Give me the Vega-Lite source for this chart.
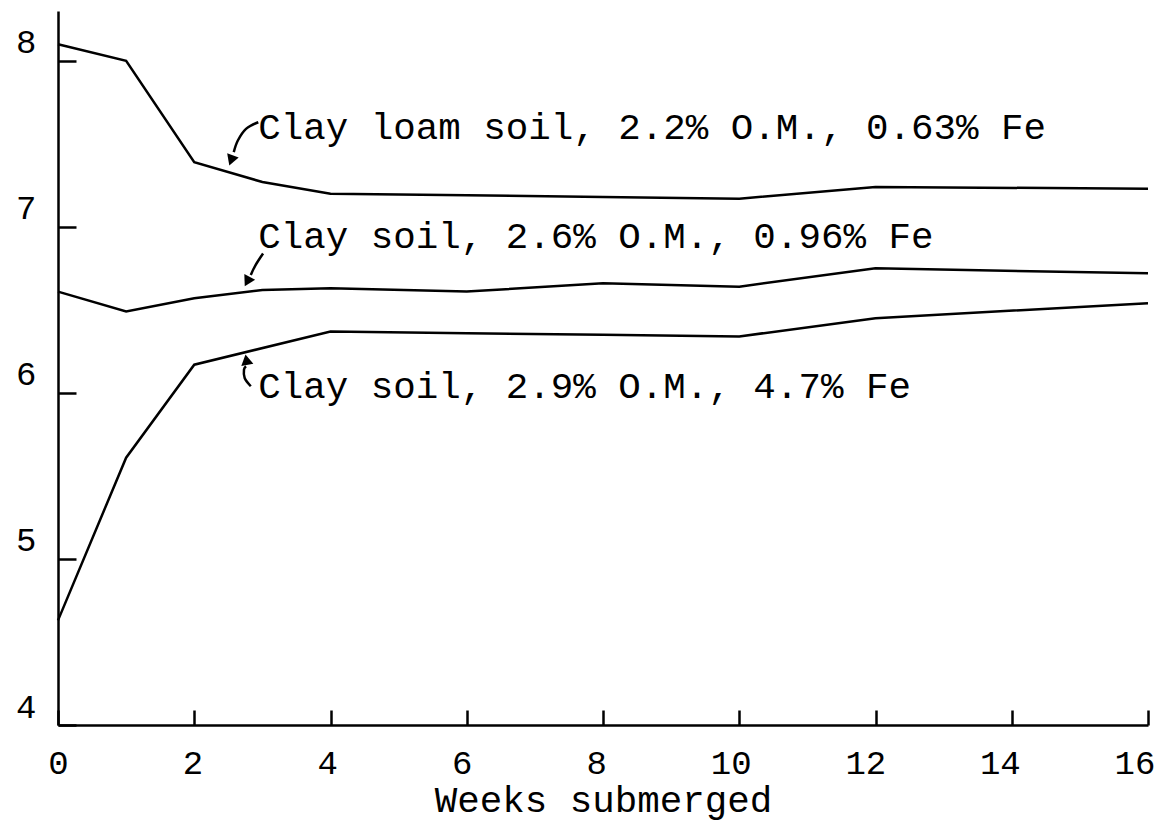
{
  "$schema": "https://vega.github.io/schema/vega-lite/v6.json",
  "width": 1090,
  "height": 714,
  "autosize": "none",
  "padding": {"left": 58, "top": 11, "right": 13, "bottom": 97},
  "background": "white",
  "config": {
    "view": {"stroke": null},
    "font": "Liberation Mono",
    "axis": {
      "grid": false,
      "domainColor": "black",
      "domainWidth": 2.5,
      "tickColor": "black",
      "tickWidth": 2.5,
      "labelColor": "black",
      "labelFont": "Liberation Mono",
      "labelFontSize": 34,
      "labelFlush": false,
      "titleColor": "black",
      "titleFont": "Liberation Mono",
      "titleFontSize": 37.5,
      "titleFontWeight": "normal"
    }
  },
  "datasets": {
    "series": [
      {"soil": "Clay loam soil, 2.2% O.M., 0.63% Fe", "week": 0, "pH": 8.1},
      {"soil": "Clay loam soil, 2.2% O.M., 0.63% Fe", "week": 1, "pH": 8.0},
      {"soil": "Clay loam soil, 2.2% O.M., 0.63% Fe", "week": 2, "pH": 7.39},
      {"soil": "Clay loam soil, 2.2% O.M., 0.63% Fe", "week": 3, "pH": 7.27},
      {"soil": "Clay loam soil, 2.2% O.M., 0.63% Fe", "week": 4, "pH": 7.2},
      {"soil": "Clay loam soil, 2.2% O.M., 0.63% Fe", "week": 6, "pH": 7.19},
      {"soil": "Clay loam soil, 2.2% O.M., 0.63% Fe", "week": 8, "pH": 7.18},
      {"soil": "Clay loam soil, 2.2% O.M., 0.63% Fe", "week": 10, "pH": 7.17},
      {"soil": "Clay loam soil, 2.2% O.M., 0.63% Fe", "week": 12, "pH": 7.24},
      {"soil": "Clay loam soil, 2.2% O.M., 0.63% Fe", "week": 16, "pH": 7.23},
      {"soil": "Clay soil, 2.6% O.M., 0.96% Fe", "week": 0, "pH": 6.61},
      {"soil": "Clay soil, 2.6% O.M., 0.96% Fe", "week": 1, "pH": 6.49},
      {"soil": "Clay soil, 2.6% O.M., 0.96% Fe", "week": 2, "pH": 6.57},
      {"soil": "Clay soil, 2.6% O.M., 0.96% Fe", "week": 3, "pH": 6.62},
      {"soil": "Clay soil, 2.6% O.M., 0.96% Fe", "week": 4, "pH": 6.63},
      {"soil": "Clay soil, 2.6% O.M., 0.96% Fe", "week": 6, "pH": 6.61},
      {"soil": "Clay soil, 2.6% O.M., 0.96% Fe", "week": 8, "pH": 6.66},
      {"soil": "Clay soil, 2.6% O.M., 0.96% Fe", "week": 10, "pH": 6.64},
      {"soil": "Clay soil, 2.6% O.M., 0.96% Fe", "week": 12, "pH": 6.75},
      {"soil": "Clay soil, 2.6% O.M., 0.96% Fe", "week": 16, "pH": 6.72},
      {"soil": "Clay soil, 2.9% O.M., 4.7% Fe", "week": 0, "pH": 4.63},
      {"soil": "Clay soil, 2.9% O.M., 4.7% Fe", "week": 1, "pH": 5.61},
      {"soil": "Clay soil, 2.9% O.M., 4.7% Fe", "week": 2, "pH": 6.17},
      {"soil": "Clay soil, 2.9% O.M., 4.7% Fe", "week": 4, "pH": 6.37},
      {"soil": "Clay soil, 2.9% O.M., 4.7% Fe", "week": 6, "pH": 6.36},
      {"soil": "Clay soil, 2.9% O.M., 4.7% Fe", "week": 8, "pH": 6.35},
      {"soil": "Clay soil, 2.9% O.M., 4.7% Fe", "week": 10, "pH": 6.34},
      {"soil": "Clay soil, 2.9% O.M., 4.7% Fe", "week": 12, "pH": 6.45},
      {"soil": "Clay soil, 2.9% O.M., 4.7% Fe", "week": 16, "pH": 6.54}
    ],
    "labels": [
      {"soil": "Clay loam soil, 2.2% O.M., 0.63% Fe", "week": 2.94, "pH": 7.53},
      {"soil": "Clay soil, 2.6% O.M., 0.96% Fe", "week": 2.94, "pH": 6.87},
      {"soil": "Clay soil, 2.9% O.M., 4.7% Fe", "week": 2.94, "pH": 5.97}
    ],
    "pointers": [
      {"arrow": "a", "ord": 0, "week": 2.94, "pH": 7.63},
      {"arrow": "a", "ord": 1, "week": 2.76, "pH": 7.59},
      {"arrow": "a", "ord": 2, "week": 2.64, "pH": 7.52},
      {"arrow": "a", "ord": 3, "week": 2.58, "pH": 7.45},
      {"arrow": "b", "ord": 0, "week": 3.01, "pH": 6.84},
      {"arrow": "b", "ord": 1, "week": 2.9, "pH": 6.77},
      {"arrow": "b", "ord": 2, "week": 2.83, "pH": 6.71},
      {"arrow": "c", "ord": 0, "week": 2.83, "pH": 6.04},
      {"arrow": "c", "ord": 1, "week": 2.74, "pH": 6.09},
      {"arrow": "c", "ord": 2, "week": 2.73, "pH": 6.14},
      {"arrow": "c", "ord": 3, "week": 2.76, "pH": 6.16}
    ],
    "heads": [
      {"arrow": "a", "week": 2.55, "pH": 7.41},
      {"arrow": "b", "week": 2.79, "pH": 6.68},
      {"arrow": "c", "week": 2.77, "pH": 6.19}
    ]
  },
  "encoding": {
    "x": {
      "field": "week",
      "type": "quantitative",
      "scale": {"domain": [0, 16], "nice": false, "zero": false},
      "axis": {
        "title": "Weeks submerged",
        "values": [0, 2, 4, 6, 8, 10, 12, 14, 16],
        "tickSize": -15,
        "labelPadding": 36,
        "labelOffset": {"expr": "-0.85 * datum.value"},
        "titlePadding": 1
      }
    },
    "y": {
      "field": "pH",
      "type": "quantitative",
      "scale": {"domain": [4, 8.3], "nice": false, "zero": false},
      "axis": {
        "title": null,
        "values": [4, 5, 6, 7, 8],
        "tickSize": -18,
        "labelPadding": 40,
        "labelOffset": -18
      }
    }
  },
  "layer": [
    {
      "data": {"name": "series"},
      "mark": {"type": "line", "color": "black", "strokeWidth": 2.5},
      "encoding": {"detail": {"field": "soil"}}
    },
    {
      "data": {"name": "pointers"},
      "mark": {"type": "line", "color": "black", "strokeWidth": 2.5, "interpolate": "cardinal"},
      "encoding": {"detail": {"field": "arrow"}, "order": {"field": "ord"}}
    },
    {
      "data": {"name": "heads"},
      "transform": [{"filter": "datum.arrow === 'a'"}],
      "mark": {"type": "point", "shape": "triangle", "filled": true, "color": "black", "opacity": 1, "size": 150, "angle": 200}
    },
    {
      "data": {"name": "heads"},
      "transform": [{"filter": "datum.arrow === 'b'"}],
      "mark": {"type": "point", "shape": "triangle", "filled": true, "color": "black", "opacity": 1, "size": 150, "angle": 208}
    },
    {
      "data": {"name": "heads"},
      "transform": [{"filter": "datum.arrow === 'c'"}],
      "mark": {"type": "point", "shape": "triangle", "filled": true, "color": "black", "opacity": 1, "size": 150, "angle": 350}
    },
    {
      "data": {"name": "labels"},
      "mark": {"type": "text", "align": "left", "baseline": "alphabetic", "font": "Liberation Mono", "fontSize": 37.5, "color": "black"},
      "encoding": {"text": {"field": "soil"}}
    }
  ]
}
